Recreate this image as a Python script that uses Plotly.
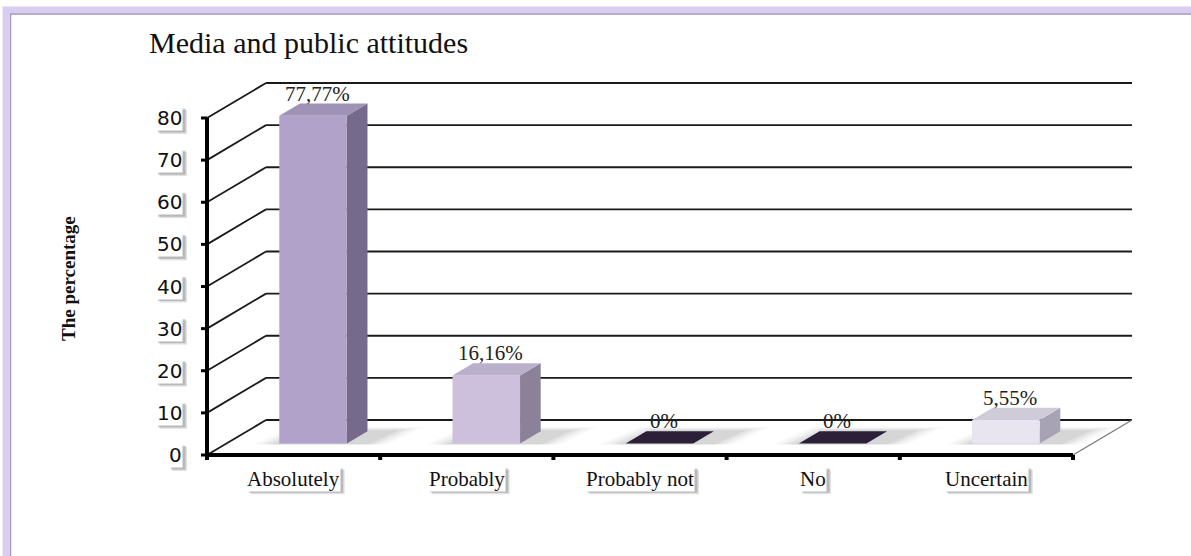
import plotly.graph_objects as go

# ---------------- data ----------------
categories = ["Absolutely", "Probably", "Probably not", "No", "Uncertain"]
values = [77.77, 16.16, 0, 0, 5.55]
value_labels = ["77,77%", "16,16%", "0%", "0%", "5,55%"]
y_ticks = [0, 10, 20, 30, 40, 50, 60, 70, 80]
title_text = "Media and public attitudes"
y_title = "The percentage"

# ---------------- styles ----------------
front_colors = ["#b1a2c9", "#ccc0dd", "#2b2038", "#2b2038", "#e8e4f0"]
side_colors = ["#766a8c", "#8b8199", "#2b2038", "#2b2038", "#a7a2b4"]
top_colors = ["#9f92b7", "#bbb0cc", "#2b2038", "#2b2038", "#cfcbd9"]
SERIF = "Liberation Serif, Times New Roman, serif"
SANS = "DejaVu Sans, Verdana, sans-serif"

W, H = 1191, 556
X0_PX, Y0_PX = 207, 455          # pixel of the front origin
PX_PER_CAT = 173.2
PX_PER_VAL = 4.2125
DX = 59 / PX_PER_CAT              # depth offset in category units
DV = 35 / PX_PER_VAL              # depth offset in value units
BAR_W = 0.39
Z0, Z1 = 0.33, 0.68
VMAX = y_ticks[-1]
N = len(categories)

# approximate glyph widths (em) used to size the label shadows
SERIF_W = {"A": .722, "b": .5, "s": .389, "o": .5, "l": .278, "u": .5, "t": .278, "e": .444,
           "y": .5, "P": .556, "r": .333, "a": .444, "n": .5, "N": .722, "U": .722,
           "c": .444, "i": .278, " ": .25}


def text_w(s, size, sans=False):
    if sans:
        return len(s) * 0.636 * size
    return sum(SERIF_W.get(ch, .5) for ch in s) * size


def P(x, v, z):
    return x + z * DX, v + z * DV


fig = go.Figure()


def poly(pts, fill, line_color=None, lw=0):
    xs, vs = [], []
    for (x, v, z) in pts:
        px, pv = P(x, v, z)
        xs.append(px)
        vs.append(pv)
    xs.append(xs[0])
    vs.append(vs[0])
    fig.add_trace(go.Scatter(x=xs, y=vs, mode="lines", fill="toself", fillcolor=fill,
                             line=dict(color=line_color or "rgba(0,0,0,0)", width=lw),
                             hoverinfo="skip", showlegend=False))


def lines(segs, color, width):
    xs, vs = [], []
    for seg in segs:
        for (x, v, z) in seg:
            px, pv = P(x, v, z)
            xs.append(px)
            vs.append(pv)
        xs.append(None)
        vs.append(None)
    fig.add_trace(go.Scatter(x=xs, y=vs, mode="lines", line=dict(color=color, width=width),
                             hoverinfo="skip", showlegend=False))


# side wall diagonals and back wall gridlines
lines([[(0, t, 0), (0, t, 1)] for t in y_ticks], "#1a1a1a", 1.8)
lines([[(0, t, 1), (N, t, 1)] for t in y_ticks], "#1a1a1a", 1.8)
# floor right edge
lines([[(N, 0, 0), (N, 0, 1)]], "#777777", 1.2)

# soft bar shadows on the floor
for i, v in enumerate(values):
    xc = i + 0.5
    xl, xr = xc - BAR_W / 2, xc + BAR_W / 2
    for k, a in enumerate([0.035, 0.05, 0.07, 0.08]):
        e = 0.14 - 0.035 * k
        poly([(xl - e, 0, Z0 - 0.03), (xr + e + 0.1, 0, Z0 - 0.03),
              (xr + e + 0.14, 0, Z1 + 0.12 - 0.03 * k), (xl - e + 0.06, 0, Z1 + 0.12 - 0.03 * k)],
             "rgba(70,70,70,%.3f)" % a)

# bars
for i, v in enumerate(values):
    xc = i + 0.5
    xl, xr = xc - BAR_W / 2, xc + BAR_W / 2
    if v > 0:
        poly([(xr, 0, Z0), (xr, 0, Z1), (xr, v, Z1), (xr, v, Z0)], side_colors[i])
        poly([(xl, 0, Z0), (xr, 0, Z0), (xr, v, Z0), (xl, v, Z0)], front_colors[i])
    poly([(xl, v, Z0), (xr, v, Z0), (xr, v, Z1), (xl, v, Z1)], top_colors[i])

# front axes
tick_len_v = 5 / PX_PER_VAL
tick_len_x = 6 / PX_PER_CAT
lines([[(0, 0, 0), (0, VMAX, 0)]], "#000000", 4)
lines([[(0, 0, 0), (N, 0, 0)]], "#000000", 4)
lines([[(-tick_len_x, t, 0), (0, t, 0)] for t in y_ticks], "#000000", 3)
lines([[(i, 0, 0), (i, -tick_len_v, 0)] for i in range(N + 1)], "#000000", 4)

annotations = []
shapes = []


def shadow(x, y, x0, x1, y0, y1):
    # x0..x1, y0..y1: pixel box of the label relative to the anchor (y up)
    for off, a in [(4, 0.18), (2.5, 0.3)]:
        shapes.append(dict(type="rect", xref="x", yref="y", xsizemode="pixel",
                           ysizemode="pixel", xanchor=x, yanchor=y,
                           x0=x0 + off, x1=x1 + off, y0=y0 - off, y1=y1 - off,
                           fillcolor="rgba(90,90,90,%.2f)" % a, line=dict(width=0),
                           layer="above"))


# y tick labels
TICK_SIZE = 20
for t in y_ticks:
    s = str(t)
    w = text_w(s, TICK_SIZE, sans=True) + 2
    h = TICK_SIZE * 1.2
    shadow(0, t, -24 - w, -24, -h / 2, h / 2)
    annotations.append(dict(text=s, x=0, y=t, xref="x", yref="y", showarrow=False,
                            xanchor="right", yanchor="middle", xshift=-24, bgcolor="#ffffff",
                            borderpad=0, font=dict(family=SANS, size=TICK_SIZE, color="#111111")))

# category labels
CAT_SIZE = 21
for i, c in enumerate(categories):
    w = text_w(c, CAT_SIZE) + 2
    h = CAT_SIZE * 1.15
    shadow(i + 0.5, 0, -w / 2, w / 2, -11 - h, -11)
    annotations.append(dict(text=c, x=i + 0.5, y=0, xref="x", yref="y", showarrow=False,
                            xanchor="center", yanchor="top", yshift=-11, bgcolor="#ffffff",
                            borderpad=0, font=dict(family=SERIF, size=CAT_SIZE, color="#111111")))

# value labels
for i, (v, lab) in enumerate(zip(values, value_labels)):
    pv = P(i + 0.5, v, Z1)[1]
    px = P(i + 0.5, v, 0.4)[0]
    annotations.append(dict(text=lab, x=px, y=pv, xref="x", yref="y", showarrow=False,
                            xanchor="center", yanchor="bottom", yshift=-4,
                            font=dict(family=SERIF, size=21, color="#222222")))

# title and axis title
annotations.append(dict(text=title_text, x=147 / W, y=1 - 43 / H, xref="paper", yref="paper",
                        xanchor="left", yanchor="middle", showarrow=False,
                        font=dict(family=SERIF, size=30, color="#111111")))
annotations.append(dict(text="<b>" + y_title + "</b>", x=68 / W, y=1 - 279 / H,
                        xref="paper", yref="paper", textangle=-90, showarrow=False,
                        xanchor="center", yanchor="middle",
                        font=dict(family=SERIF, size=19, color="#111111")))

# frame border
shapes += [
    dict(type="rect", xref="paper", yref="paper", x0=6 / W, x1=1.1, y0=-0.1, y1=1 - 10 / H,
         line=dict(color="#d9cef0", width=7), layer="below"),
    dict(type="rect", xref="paper", yref="paper", x0=10.5 / W, x1=1.1, y0=-0.1, y1=1 - 14 / H,
         line=dict(color="#a497bd", width=1.5), layer="below"),
]

fig.update_layout(
    width=W, height=H, margin=dict(l=0, r=0, t=0, b=0),
    paper_bgcolor="#ffffff", plot_bgcolor="#ffffff",
    xaxis=dict(range=[-X0_PX / PX_PER_CAT, (W - X0_PX) / PX_PER_CAT], visible=False,
               fixedrange=True),
    yaxis=dict(range=[-(H - Y0_PX) / PX_PER_VAL, Y0_PX / PX_PER_VAL], visible=False,
               fixedrange=True),
    annotations=annotations, shapes=shapes, showlegend=False,
)

fig.write_html("out.html")
